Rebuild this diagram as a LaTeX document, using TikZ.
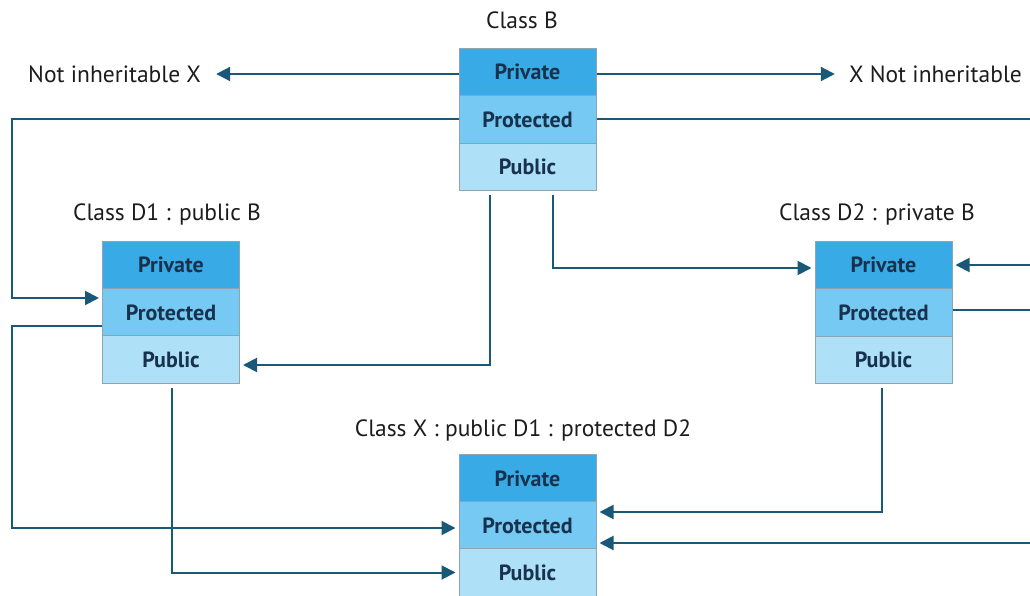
\documentclass[tikz,border=0pt]{standalone}
\usepackage{fontspec}
\setmainfont{PT Sans}
\usetikzlibrary{arrows.meta}
\definecolor{privfill}{HTML}{38ABE6}
\definecolor{protfill}{HTML}{76C9F2}
\definecolor{pubfill}{HTML}{AEE1F8}
\definecolor{cellborder}{HTML}{8FA3B3}
\definecolor{celltext}{HTML}{18324D}
\definecolor{titletext}{HTML}{1C1C1C}
\definecolor{linkcol}{HTML}{1A5878}
\begin{document}
\begin{tikzpicture}[x=1pt,y=-1pt,
  cell/.style={draw=cellborder, line width=1pt, minimum width=137pt, minimum height=47.5pt,
    inner sep=0pt, text=celltext, font=\bfseries\fontsize{22}{24}\selectfont},
  privcell/.style={cell, fill=privfill},
  protcell/.style={cell, fill=protfill},
  pubcell/.style={cell, fill=pubfill},
  title/.style={text=titletext, inner sep=0pt, font=\fontsize{23.5}{26}\selectfont},
  link/.style={draw=linkcol, line width=2pt},
  arr/.style={link, -{Triangle[length=14pt,width=14pt]}, shorten >=3pt}]
\useasboundingbox (0,0) rectangle (1030,596);

% Class B
\node[title] (tb) at (522,20) {Class B};
\node[privcell] (bpriv) at (527.5,72) {Private};
\node[protcell] (bprot) at (527.5,119.5) {Protected};
\node[pubcell]  (bpub)  at (527.5,167) {Public};

% Class D1
\node[title] (td1) at (167,214) {Class D1 : public B};
\node[privcell] (d1priv) at (171,265) {Private};
\node[protcell] (d1prot) at (171,312.5) {Protected};
\node[pubcell]  (d1pub)  at (171,359.5) {Public};

% Class D2
\node[title] (td2) at (877,214) {Class D2 : private B};
\node[privcell] (d2priv) at (883.5,265) {Private};
\node[protcell] (d2prot) at (883.5,312.5) {Protected};
\node[pubcell]  (d2pub)  at (883.5,360) {Public};

% Class X
\node[title] (tx) at (523,430) {Class X : public D1 : protected D2};
\node[privcell] (xpriv) at (527.5,478.5) {Private};
\node[protcell] (xprot) at (527.5,525.5) {Protected};
\node[pubcell]  (xpub)  at (527.5,572.5) {Public};

% side labels
\node[title, anchor=west] (nixl) at (28,74) {Not inheritable X};
\node[title, anchor=east] (nixr) at (1022,74) {X Not inheritable};

% connector ends at the picture edge
\coordinate (eB)  at (1030,119.5);
\coordinate (eD2in) at (1030,265);
\coordinate (eD2out) at (1030,310);
\coordinate (eXin) at (1030,543);

% private members of B are not inherited
\draw[arr, shorten >=0pt] (bpriv.west |- nixl) -- ([xshift=15pt]nixl.east);
\draw[arr, shorten >=0pt] (bpriv.east |- nixr) -- ([xshift=-14pt]nixr.west);

% B protected -> D1 protected (public inheritance)
\draw[arr] (bprot.west) -| (12,298) -- ([yshift=14.5pt]d1prot.west);
% B public -> D1 public
\draw[arr] ([xshift=-37.5pt,yshift=-4pt]bpub.south) |- ([yshift=-5.5pt]d1pub.east);
% B protected/public -> D2 private (private inheritance)
\draw[link] (bprot.east) -- (eB);
\draw[arr] (eD2in) -- (d2priv.east);
\draw[arr] ([xshift=25.5pt,yshift=-4pt]bpub.south) |- ([yshift=-3pt]d2priv.west);

% D1 -> X
\draw[arr] ([yshift=-13.5pt]d1prot.west) -| (12,528) -- ([yshift=-2.5pt]xprot.west);
\draw[arr] ([xshift=1pt,yshift=-4pt]d1pub.south) |- (xpub.west);

% D2 -> X (protected inheritance)
\draw[link] ([yshift=2.5pt]d2prot.east) -- (eD2out);
\draw[arr] ([xshift=-1.5pt,yshift=-4pt]d2pub.south) |- ([yshift=13.5pt]xprot.east);
\draw[arr] (eXin) -- ([yshift=-17.5pt]xprot.east);
\end{tikzpicture}
\end{document}
